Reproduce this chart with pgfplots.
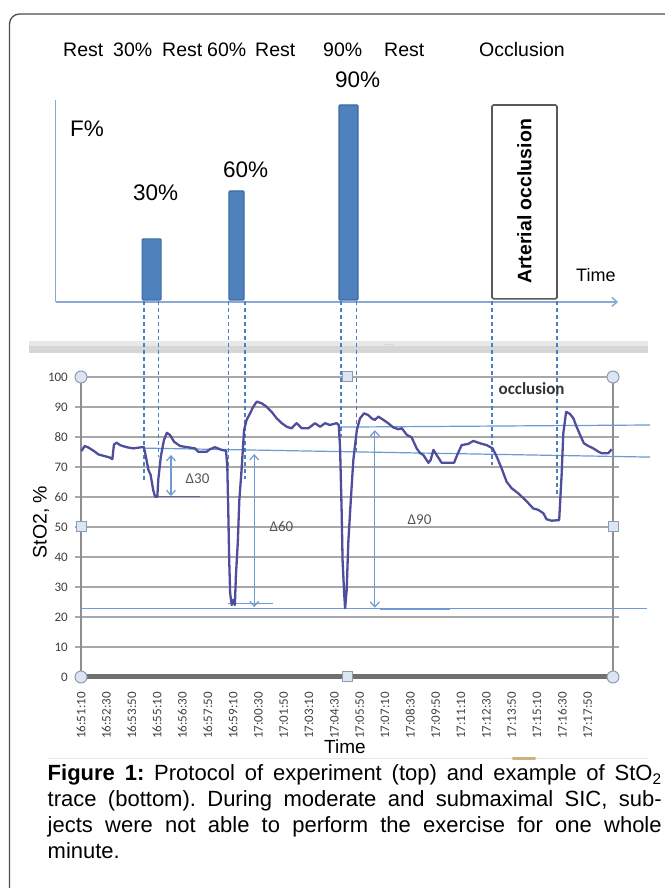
\documentclass[border=0pt]{standalone}
\usepackage{pgfplots}
\pgfplotsset{compat=1.18}
\usepackage{fontspec}
\setmainfont{Liberation Sans}
\newfontfamily\calfont{Carlito}
\usetikzlibrary{arrows.meta}
\definecolor{barblue}{HTML}{4F81BD}
\definecolor{bardark}{HTML}{3B6BA5}
\definecolor{axblue}{HTML}{8AA8D8}
\definecolor{dashblue}{HTML}{4A7FC1}
\definecolor{refblue}{HTML}{6C9AD3}
\definecolor{tracecol}{HTML}{4E4E9C}
\definecolor{gridgray}{HTML}{A8A8A8}
\definecolor{axgray}{HTML}{8E8E8E}
\definecolor{basegray}{HTML}{707070}
\definecolor{ticktext}{HTML}{3F3F3F}
\definecolor{handlefill}{HTML}{DCE6F2}
\definecolor{handledraw}{HTML}{8B9CB3}
\definecolor{framegray}{HTML}{4D4D4D}
\definecolor{boxgray}{HTML}{5A5A5A}
\definecolor{deltatext}{HTML}{555555}
\begin{document}
\begin{tikzpicture}
\path[use as bounding box] (0,0) rectangle (665bp,888bp);
\begin{scope}[x=1bp,y=1bp]
% frame
\draw[framegray, line width=1.3bp, rounded corners=10bp] (666,874) -- (9.5,874) -- (9.5,-2);
% gray band
\fill[gray!18] (29,541.5) rectangle (648,546.5);
\fill[gray!32] (29,535) rectangle (648,541.5);
\node[text=gray!60, font=\fontsize{8bp}{8bp}\selectfont, inner sep=0pt] at (389,543) {....};
% bottom faint line
\draw[gray!18, line width=1bp] (48,129) -- (648,129);
\draw[color={rgb,255:red,205;green,178;blue,130}, line width=2.5bp, line cap=round] (513,129.5) -- (535,129.5);
% top row texts
\begin{scope}[every node/.style={anchor=base west, inner sep=0pt, font=\fontsize{19.5bp}{23bp}\selectfont}]
\node at (63,831) {Rest};
\node at (113,831) {30\%};
\node at (162,831) {Rest};
\node at (207,831) {60\%};
\node at (255,831) {Rest};
\node at (323,831) {90\%};
\node at (384,831) {Rest};
\node at (479,831) {Occlusion};
\end{scope}
\begin{scope}[every node/.style={anchor=base west, inner sep=0pt, font=\fontsize{22.5bp}{26bp}\selectfont}]
\node at (70,751) {F\%};
\node at (133,687) {30\%};
\node at (223,710) {60\%};
\node at (335,800) {90\%};
\end{scope}
\node[anchor=base west, inner sep=0pt, font=\fontsize{18bp}{20bp}\selectfont] at (576,606) {Time};
% bottom labels
\node[anchor=base, inner sep=0pt, font=\fontsize{19bp}{22bp}\selectfont] at (345,135) {Time};
\node[rotate=90, inner sep=0pt, font=\fontsize{19.5bp}{22bp}\selectfont] at (41,366) {StO2, \%};
% caption
\node[anchor=base west, inner sep=0pt, text width=614bp, align=justify, font=\fontsize{22bp}{26bp}\selectfont] at (47.5,107.3)
{\frenchspacing\tolerance=9999\hyphenpenalty=10000\emergencystretch=20bp \textbf{Figure 1:} Protocol of experiment (top) and example of StO\textsubscript{2}\linebreak trace (bottom). During moderate and submaximal SIC, sub-\linebreak jects were not able to perform the exercise for one whole\linebreak minute.};
\end{scope}

% ---------- top protocol panel ----------
\begin{axis}[at={(55.67bp,588bp)}, anchor=south west, scale only axis,
  width=563.67bp, height=200bp, xmin=-80, xmax=1700, ymin=0, ymax=92.3,
  hide axis, clip=false]
\draw[axblue, line width=1.5bp] (axis cs:-80,92.3) -- (axis cs:-80,-0.9);
\draw[axblue, line width=1.5bp, -{Straight Barb[length=5bp,width=9bp]}] (axis cs:-80,-0.9) -- (axis cs:1696,-0.9);
\addplot[fill=barblue, draw=bardark, line width=1.2bp, rounded corners=1bp] coordinates {(193,0) (193,28.2) (253,28.2) (253,0)} -- cycle;
\addplot[fill=barblue, draw=bardark, line width=1.2bp, rounded corners=1bp] coordinates {(467,0) (467,50.3) (515,50.3) (515,0)} -- cycle;
\addplot[fill=barblue, draw=bardark, line width=1.2bp, rounded corners=1bp] coordinates {(815,0) (815,90) (875,90) (875,0)} -- cycle;
\addplot[fill=white, draw=boxgray, line width=1.6bp, rounded corners=1.5bp] coordinates {(1298,0.5) (1298,90) (1503,90) (1503,0.5)} -- cycle;
\node[rotate=90, inner sep=0pt, font=\bfseries\fontsize{19.5bp}{22bp}\selectfont] at (axis cs:1400.5,45.5) {Arterial occlusion};
\end{axis}

% ---------- StO2 trace ----------
\begin{axis}[at={(81bp,211bp)}, anchor=south west, scale only axis,
  width=532bp, height=300bp,
  xmin=0, xmax=1680, ymin=0, ymax=100,
  clip=false,
  /pgf/number format/assume math mode=true,
  axis line style={draw=none},
  ytick={0,10,...,100},
  ymajorgrids,
  y grid style={draw=gridgray, line width=1.8bp},
  ytick style={draw=gridgray, line width=1.8bp},
  tick align=outside, major tick length=6bp,
  xtick={0,80,...,1600},
  xticklabels={16:51:10,16:52:30,16:53:50,16:55:10,16:56:30,16:57:50,16:59:10,17:00:30,17:01:50,17:03:10,17:04:30,17:05:50,17:07:10,17:08:30,17:09:50,17:11:10,17:12:30,17:13:50,17:15:10,17:16:30,17:17:50},
  xtick style={draw=none},
  xticklabel style={rotate=90, anchor=east, inner sep=0pt, font=\calfont\fontsize{13bp}{13bp}\selectfont, text=ticktext},
  yticklabel style={anchor=east, inner sep=0pt, font=\calfont\fontsize{13bp}{13bp}\selectfont, text=ticktext},
  xticklabel shift=9bp, yticklabel shift=7bp,
]
\draw[axgray, line width=1.5bp] (axis cs:0,0) -- (axis cs:0,100);
\draw[axgray, line width=1.5bp] (axis cs:1680,0) -- (axis cs:1680,100);
\draw[basegray, line width=5bp] (axis cs:0,0) -- (axis cs:1680,0);
% reference lines
\addplot[refblue, line width=1.2bp] coordinates {(196,76.3) (1797,73.3)};
\addplot[refblue, line width=1.2bp] coordinates {(818,83.3) (1797,84)};
\addplot[refblue, line width=1.2bp] coordinates {(-3,22.9) (1787,22.9)};
\addplot[refblue, line width=1.2bp] coordinates {(464,24.6) (606,24.6)};
\addplot[refblue, line width=1.8bp] coordinates {(944,22.7) (1165,22.7)};
\addplot[color=gray!80!blue, line width=1.2bp] coordinates {(234,60.1) (376,60.1)};
% dashed connectors
\addplot[dashblue, line width=1.1bp, dash pattern=on 4bp off 3bp] coordinates {(199,125.3) (199,65.7)};
\addplot[dashblue, line width=1.1bp, dash pattern=on 4bp off 3bp] coordinates {(246,125.3) (246,73.3)};
\addplot[dashblue, line width=1.1bp, dash pattern=on 4bp off 3bp] coordinates {(466,125.3) (466,69)};
\addplot[dashblue, line width=1.1bp, dash pattern=on 4bp off 3bp] coordinates {(518,125.3) (518,66)};
\addplot[dashblue, line width=1.1bp, dash pattern=on 4bp off 3bp] coordinates {(821,125.3) (821,80)};
\addplot[dashblue, line width=1.1bp, dash pattern=on 4bp off 3bp] coordinates {(871,125.3) (871,74.6)};
\addplot[dashblue, line width=1.1bp, dash pattern=on 4bp off 3bp] coordinates {(1298,125.3) (1298,70.7)};
\addplot[dashblue, line width=1.1bp, dash pattern=on 4bp off 3bp] coordinates {(1503,125.3) (1503,60)};
% trace
\addplot[tracecol, line width=2.3bp, line join=round] coordinates {
(1,75.3) (12,77) (25,76.4) (41,75.3) (55,74.2) (72,73.7) (90,73.2) (99,72.6) (104,77.5) (113,78.1) (123,77.3) (144,76.6) (165,76.2) (192,76.6) (199,76.6) (205,73.4) (213,69) (220,67.3) (228,62.3) (234,60.1) (241,60.1) (244,65.7) (252,73.4) (262,79) (271,81.4) (281,80.7) (294,78.4) (313,77) (336,76.6) (360,76.2) (370,75.1) (397,75.1) (407,75.9) (423,76.6) (444,75.7) (458,75.4) (462,70.1) (465,55.7) (468,39) (471,27.9) (476,24) (481,25.7) (486,24) (489,33.4) (495,44.6) (500,59) (507,69) (515,82.3) (523,85.7) (534,87.9) (544,90.1) (555,91.8) (571,91.2) (586,90.1) (602,88.4) (618,86.2) (634,84.6) (650,83.4) (665,82.9) (681,84.6) (697,82.9) (718,82.9) (739,84.6) (755,83.4) (771,84.6) (786,84) (807,84.6) (814,84) (818,76.8) (823,55.7) (826,39) (831,27.9) (834,22.9) (839,29) (844,44.6) (852,59) (860,72.3) (871,82.3) (881,86.2) (894,87.9) (907,87.3) (918,86.2) (928,85.7) (939,86.8) (955,85.7) (970,84.6) (986,83.2) (1002,82.6) (1013,82.9) (1029,80.7) (1044,79.9) (1060,76.2) (1071,74.6) (1081,74) (1097,71.4) (1104,72.3) (1113,75.7) (1123,74) (1139,71.4) (1178,71.4) (1188,74) (1202,77.3) (1223,77.7) (1239,78.7) (1260,77.9) (1281,77.3) (1300,76.2) (1313,73.4) (1328,69.6) (1344,65.1) (1360,62.9) (1381,61.2) (1397,59.6) (1413,57.9) (1428,56.2) (1444,55.7) (1460,54.6) (1470,52.6) (1486,52.1) (1510,52.3) (1518,67.9) (1523,81.2) (1532,88.4) (1544,87.7) (1555,86.2) (1565,83.4) (1576,80.7) (1588,77.9) (1602,77) (1618,76.2) (1634,75.1) (1644,74.6) (1665,74.6) (1676,75.9)
};
% delta arrows
\draw[refblue, line width=1.2bp, {Straight Barb[length=5bp,width=9bp]}-{Straight Barb[length=5bp,width=9bp]}] (axis cs:284,74) -- (axis cs:284,60.3);
\draw[refblue, line width=1.2bp, {Straight Barb[length=5bp,width=9bp]}-{Straight Barb[length=5bp,width=9bp]}] (axis cs:547,74.3) -- (axis cs:547,23.3);
\draw[refblue, line width=1.2bp, {Straight Barb[length=5bp,width=9bp]}-{Straight Barb[length=5bp,width=9bp]}] (axis cs:928,82.3) -- (axis cs:928,23.1);
\node[text=deltatext, font=\calfont\fontsize{15bp}{15bp}\selectfont] at (axis cs:368,66) {Δ30};
\node[text=deltatext, font=\calfont\fontsize{15bp}{15bp}\selectfont] at (axis cs:633,50.3) {Δ60};
\node[text=deltatext, font=\calfont\fontsize{15bp}{15bp}\selectfont] at (axis cs:1069,52.3) {Δ90};
\node[text=black!80, font=\calfont\bfseries\fontsize{17bp}{17bp}\selectfont] at (axis cs:1423,96) {occlusion};
% selection handles
\addplot[only marks, mark=*, mark size=6bp, mark options={fill=handlefill, draw=handledraw, line width=1bp}] coordinates {(0,0) (0,100) (1680,100) (1680,0)};
\addplot[only marks, mark=square*, mark size=5bp, mark options={fill=handlefill, draw=handledraw, line width=1bp}] coordinates {(0,50) (1680,50) (840,100) (840,0)};
\end{axis}
\end{tikzpicture}
\end{document}
